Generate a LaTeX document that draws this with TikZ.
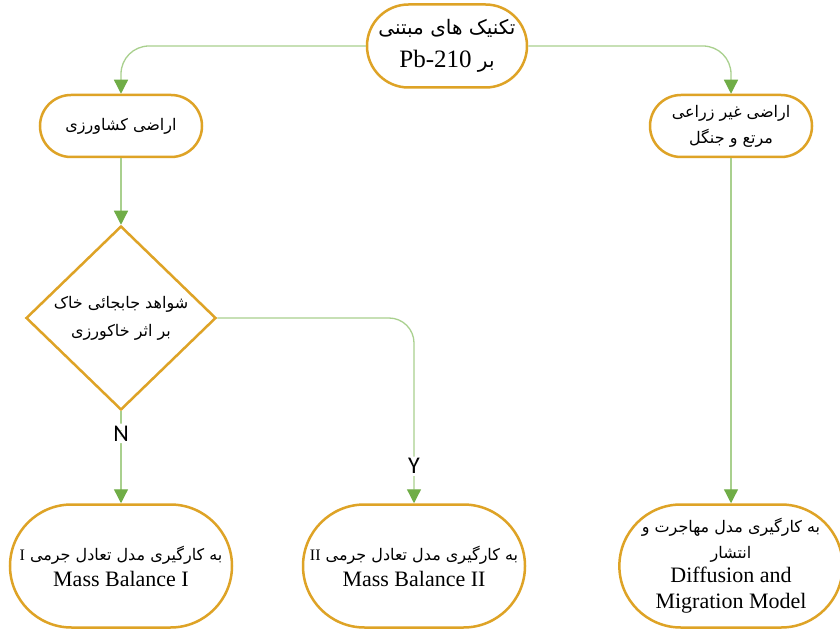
\documentclass[tikz,border=0pt]{standalone}
\usepackage{fontspec}
\setmainfont{Liberation Serif}
\newfontfamily\persian[Script=Arabic]{DejaVu Sans}
\newfontfamily\labelfont{Carlito}
\TeXXeTstate=1
\usetikzlibrary{shapes.geometric,shapes.misc,arrows.meta,positioning}
\definecolor{gold}{RGB}{222,163,38}
\definecolor{leaf}{RGB}{169,208,142}
\definecolor{leafdark}{RGB}{112,173,71}
\tikzstyle{stadium} = [draw=gold,line width=2.5pt,rounded rectangle,align=center,inner sep=0pt,font=\persian\fontsize{16}{26}\selectfont]
\tikzstyle{decision} = [draw=gold,line width=2.5pt,diamond,inner sep=0pt,align=center,minimum width=190pt,minimum height=184pt,font=\persian\fontsize{16}{28}\selectfont]
\tikzstyle{link} = [draw=leaf,line width=1.3pt,rounded corners=28pt,-{Triangle[length=14pt,width=14pt,color=leafdark]}]
\tikzstyle{branch} = [fill=white,inner sep=2pt,font=\labelfont\fontsize{24}{24}\selectfont]
\def\fa#1{\beginR #1\endR}
\def\en#1{\beginL{\rmfamily #1}\endL}

\begin{document}
\begin{tikzpicture}[x=1pt,y=1pt]
  \useasboundingbox[fill=white] (0,0) rectangle (840,630);
  % top
  \node[stadium,minimum width=160pt,minimum height=83pt,font=\persian\fontsize{20}{33}\selectfont] (root) at (447,584)
    {\fa{تکنیک های مبتنی}\\\fa{بر \en{\fontsize{25}{33}\selectfont Pb-210}}};
  % land use
  \node[stadium,minimum width=162pt,minimum height=62pt] (farm) at (121,504) {\fa{اراضی کشاورزی}};
  \node[stadium,minimum width=162pt,minimum height=62pt] (wild) at (731,504)
    {\fa{اراضی غیر زراعی}\\\fa{مرتع و جنگل}};
  \node[decision] (tillage) at (121,312) {\fa{شواهد جابجائی خاک}\\\fa{بر اثر خاکورزی}};
  % models
  \node[stadium,minimum width=222pt,minimum height=123pt] (mbone) at (121,64)
    {\fa{به کارگیری مدل تعادل جرمی \en{I}}\\{\rmfamily\fontsize{22}{27}\selectfont Mass Balance I}};
  \node[stadium,minimum width=222pt,minimum height=123pt] (mbtwo) at (414,64)
    {\fa{به کارگیری مدل تعادل جرمی \en{II}}\\{\rmfamily\fontsize{22}{27}\selectfont Mass Balance II}};
  \node[stadium,minimum width=220pt,minimum height=123pt] (dmm) at (731,64)
    {\fa{به کارگیری مدل مهاجرت و}\\\fa{انتشار}\\[-2pt]{\rmfamily\fontsize{22}{26}\selectfont Diffusion and}\\{\rmfamily\fontsize{22}{26}\selectfont Migration Model}};
  % connectors
  \draw[link] (root.west) -| (farm.north);
  \draw[link] (root.east) -| (wild.north);
  \draw[link] (farm.south) -- (tillage.north);
  \draw[link] (tillage.south) -- node[branch,pos=0.24]{N} (mbone.north);
  \draw[link,rounded corners=25pt] (tillage.east) -| node[branch,pos=0.9]{Y} (mbtwo.north);
  \draw[link] (wild.south) -- (dmm.north);
\end{tikzpicture}
\end{document}
